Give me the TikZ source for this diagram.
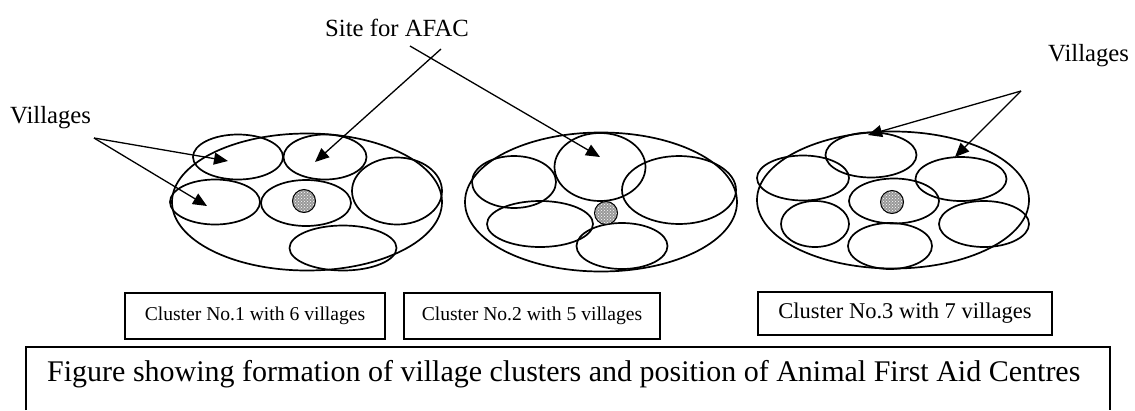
\documentclass[tikz,border=0pt]{standalone}
\usepackage{fontspec}
\setmainfont{Liberation Serif}
\usetikzlibrary{shapes.geometric,arrows.meta,patterns}
\newcommand\lblfont{\fontsize{24.7}{28}\selectfont}
\newcommand\boxfont{\fontsize{19.6}{23}\selectfont}
\newcommand\capfont{\fontsize{30}{34}\selectfont}
\tikzset{
  village/.style={draw,ellipse,line width=1.7pt,inner sep=0pt},
  cluster/.style={draw,ellipse,line width=1.7pt,inner sep=0pt},
  afac/.style={draw,circle,line width=1pt,inner sep=0pt,minimum size=23pt,
    preaction={fill=gray!80},pattern=crosshatch dots,pattern color=white},
  labelbox/.style={draw,line width=1.4pt,inner sep=0pt,font=\boxfont},
  ptr/.style={line width=1.3pt,-{Triangle[length=14pt,width=12pt]}}
}
\begin{document}
\begin{tikzpicture}[x=1pt,y=-1pt]
    \useasboundingbox (0,0) rectangle (1135,410);
    % cluster 1
    \node[cluster,minimum width=270pt,minimum height=137pt] (c1) at (307,202) {};
    \node[village,minimum width=90pt,minimum height=45pt] (a1) at (238,157) {};
    \node[village,minimum width=83pt,minimum height=45pt] (a2) at (325,157) {};
    \node[village,minimum width=90pt,minimum height=45pt] (a3) at (215,202) {};
    \node[village,minimum width=90pt,minimum height=46pt] (a4) at (306,203) {};
    \node[village,minimum width=90pt,minimum height=67pt] (a5) at (397,191) {};
    \node[village,minimum width=107pt,minimum height=45pt] (a6) at (343,248) {};
    \node[afac] (s1) at (304,201) {};
    % cluster 2
    \node[cluster,minimum width=272pt,minimum height=139pt] (c2) at (601,202) {};
    \node[village,minimum width=91pt,minimum height=68pt] (b1) at (600,167) {};
    \node[village,minimum width=84pt,minimum height=52pt] (b2) at (514,182) {};
    \node[village,minimum width=114pt,minimum height=68pt] (b3) at (679,190) {};
    \node[village,minimum width=106pt,minimum height=46pt] (b4) at (540,224) {};
    \node[village,minimum width=91pt,minimum height=46pt] (b5) at (622,246) {};
    \node[afac] (s2) at (606,213) {};
    % cluster 3
    \node[cluster,minimum width=272pt,minimum height=137pt] (c3) at (893,200) {};
    \node[village,minimum width=91pt,minimum height=45pt] (d1) at (871,155) {};
    \node[village,minimum width=92pt,minimum height=45pt] (d2) at (803,178) {};
    \node[village,minimum width=91pt,minimum height=44pt] (d3) at (961,179) {};
    \node[village,minimum width=90pt,minimum height=45pt] (d4) at (894,201) {};
    \node[village,minimum width=68pt,minimum height=46pt] (d5) at (815,224) {};
    \node[village,minimum width=90pt,minimum height=46pt] (d6) at (984,224) {};
    \node[village,minimum width=84pt,minimum height=46pt] (d7) at (890,246) {};
    \node[afac] (s3) at (892,202) {};
    % labels and pointers
    \node[anchor=base west,inner sep=0pt,font=\lblfont] (vleft) at (10,123) {Villages};
    \node[anchor=base west,inner sep=0pt,font=\lblfont] (site) at (325,36) {Site for AFAC};
    \node[anchor=base west,inner sep=0pt,font=\lblfont] (vright) at (1048,61) {Villages};
    \coordinate (vlfoot) at (94,138);
    \coordinate (sitea) at (441,49);
    \coordinate (siteb) at (410,46);
    \coordinate (vrfoot) at (1021,91);
    \coordinate (ta1) at (228,161);
    \coordinate (ta3) at (207,206);
    \coordinate (ta2) at (315,162);
    \coordinate (tb1) at (600,157);
    \coordinate (td1) at (868,135);
    \coordinate (td3) at (955,157);
    \draw[ptr] (vlfoot) -- (ta1);
    \draw[ptr] (vlfoot) -- (ta3);
    \draw[ptr] (sitea) -- (ta2);
    \draw[ptr] (siteb) -- (tb1);
    \draw[ptr] (vrfoot) -- (td1);
    \draw[ptr] (vrfoot) -- (td3);
    % cluster boxes
    \node[labelbox,minimum width=260pt,minimum height=46pt] (n1) at (255,316) {Cluster No.1 with 6 villages};
    \node[labelbox,minimum width=256pt,minimum height=46pt] (n2) at (532,316) {Cluster No.2 with 5 villages};
    \node[labelbox,minimum width=294pt,minimum height=43pt,font=\fontsize{22.5}{26}\selectfont] (n3) at (905,313.5) {Cluster No.3 with 7 villages};
    % caption
    \draw[line width=1.4pt] (26,410) -- (26,347) -- (1110,347) -- (1110,410);
    \node[anchor=base west,inner sep=0pt,font=\capfont] (caption) at (47,381) {Figure showing formation of village clusters and position of Animal First Aid Centres};
\end{tikzpicture}
\end{document}
